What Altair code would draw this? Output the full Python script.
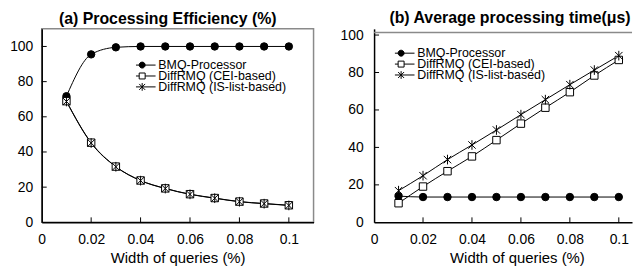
import altair as alt
import pandas as pd

# ---------------- data ----------------
widths = [0.01, 0.02, 0.03, 0.04, 0.05, 0.06, 0.07, 0.08, 0.09, 0.1]
series = ["BMQ-Processor", "DiffRMQ (CEI-based)", "DiffRMQ (IS-list-based)"]

eff_bmq = [71.7, 95.5, 99.5, 100, 100, 100, 100, 100, 100, 100]
eff_cei = [68.9, 45.3, 31.7, 23.8, 19.3, 16.0, 13.8, 11.8, 10.7, 9.7]
eff_is = [68.7, 45.1, 31.6, 23.7, 19.2, 15.9, 13.7, 11.7, 10.6, 9.6]

time_bmq = [14.0, 13.5, 13.5, 13.5, 13.5, 13.5, 13.5, 13.5, 13.5, 13.5]
time_cei = [10.2, 19.1, 27.3, 35.2, 43.9, 52.7, 61.2, 69.5, 78.4, 86.7]
time_is = [16.9, 24.9, 33.5, 41.3, 49.3, 57.5, 65.5, 73.5, 81.3, 89.0]

x_ticks = [0, 0.02, 0.04, 0.06, 0.08, 0.1]
y_ticks = [0, 20, 40, 60, 80, 100]

FONT = "Liberation Sans"
GREY = "#8a8a8a"

marker_shapes = ["circle", "square", "M-1,-1L1,1M-1,1L1,-1M0,-1.3V1.3"]
marker_fills = ["black", "white", "transparent"]
legend_shapes = [
    "M-4.5,0H4.5M1,0A1,1,0,1,1,-1,0A1,1,0,1,1,1,0Z",
    "M-4.5,0H-1M1,0H4.5M-1,-1H1V1H-1Z",
    "M-4.5,0H4.5M-1,-1L1,1M-1,1L1,-1M0,-1.3V1.3",
]
legend_strokes = ["black", "black", "black"]


def long_df(vals_list):
    rows = []
    for s, vals in zip(series, vals_list):
        for w, v in zip(widths, vals):
            rows.append({"w": w, "v": v, "series": s})
    return pd.DataFrame(rows)


def panel(df, title, title_dx, xdom, ydom, width, height, ylabpad,
          legend_x, legend_y, axis_title_x, frame_top=None):
    xs = alt.Scale(domain=xdom, nice=False, zero=False)
    ys = alt.Scale(domain=ydom, nice=False)
    xaxis = alt.Axis(values=x_ticks, format="~g", title="Width of queries (%)",
                     labelPadding=10, titleX=axis_title_x)
    yaxis = alt.Axis(values=y_ticks, format="d", title=None, labelPadding=ylabpad)

    base = alt.Chart(df)
    lines = base.mark_line(color="black", strokeWidth=1, interpolate="monotone").encode(
        x=alt.X("w:Q", scale=xs, axis=xaxis),
        y=alt.Y("v:Q", scale=ys, axis=yaxis),
        detail="series:N",
    )
    points = base.mark_point(size=56, stroke="black", strokeWidth=1, opacity=1).encode(
        x=alt.X("w:Q", scale=xs, axis=xaxis),
        y=alt.Y("v:Q", scale=ys, axis=yaxis),
        shape=alt.Shape("series:N", scale=alt.Scale(domain=series, range=marker_shapes), legend=None),
        fill=alt.Fill("series:N", scale=alt.Scale(domain=series, range=marker_fills), legend=None),
    )
    xt = alt.Chart(pd.DataFrame({"w": x_ticks[1:]})).mark_rule(color="black", strokeWidth=1).encode(
        x=alt.X("w:Q", scale=xs, axis=xaxis),
        y=alt.value(height),
        y2=alt.value(height - 5),
    )
    yt = alt.Chart(pd.DataFrame({"v": y_ticks[1:]})).mark_rule(color="black", strokeWidth=1).encode(
        y=alt.Y("v:Q", scale=ys, axis=yaxis),
        x=alt.value(0),
        x2=alt.value(5),
    )
    lg = alt.Legend(orient="none", legendX=legend_x, legendY=legend_y, title=None)
    leg = alt.Chart(pd.DataFrame({"series": series})).transform_filter("false").mark_point(
        strokeWidth=1, opacity=1
    ).encode(
        shape=alt.Shape("series:N", scale=alt.Scale(domain=series, range=legend_shapes), legend=lg),
        fill=alt.Fill("series:N", scale=alt.Scale(domain=series, range=marker_fills), legend=lg),
        stroke=alt.Stroke("series:N", scale=alt.Scale(domain=series, range=legend_strokes), legend=lg),
    )
    layers = [lines, xt, yt, points, leg]
    view = alt.ViewBackground(stroke=GREY, strokeWidth=1.5)
    if frame_top is not None:
        top = alt.Chart(pd.DataFrame({"v": [frame_top]})).mark_rule(color=GREY, strokeWidth=1.5).encode(
            y=alt.Y("v:Q", scale=ys, axis=yaxis),
            x=alt.value(0),
            x2=alt.value(width),
        )
        layers = [top] + layers
        view = alt.ViewBackground(stroke="transparent")
    return alt.layer(*layers).resolve_scale(
        shape="independent", fill="independent", stroke="independent"
    ).properties(
        width=width, height=height,
        title=alt.Title(title, dx=title_dx, anchor="middle"),
        view=view,
    )


left = panel(long_df([eff_bmq, eff_cei, eff_is]), "(a) Processing Efficiency (%)", -10,
             [0, 0.11], [0, 110], 274, 195, 9, 95, 32, 137)
right = panel(long_df([time_bmq, time_cei, time_is]), "(b) Average processing time(\u03bcs)", 7,
              [0, 0.1054], [0, 103.3], 260, 195, 11, 21, 20, 144, frame_top=101.3)

chart = alt.hconcat(left, right, spacing=25).properties(padding=0).configure_axis(
    labelFont=FONT, labelFontSize=14, labelColor="black",
    titleFont=FONT, titleFontSize=15, titleFontWeight="normal", titleColor="black",
    domainColor="black", domainWidth=1.5, ticks=False, tickSize=0, grid=False,
    titlePadding=4, labelFlush=False, labelOverlap=False,
).configure_title(
    font=FONT, fontSize=16, fontWeight="bold", color="black", offset=2,
).configure_legend(
    labelFont=FONT, labelFontSize=12.5, labelColor="black", symbolSize=36,
    symbolStrokeWidth=1, labelOffset=10, rowPadding=-2, clipHeight=9,
    padding=0, labelLimit=0, gridAlign="none",
)

chart.save("out.html", embed_options={"renderer": "svg", "actions": False})
